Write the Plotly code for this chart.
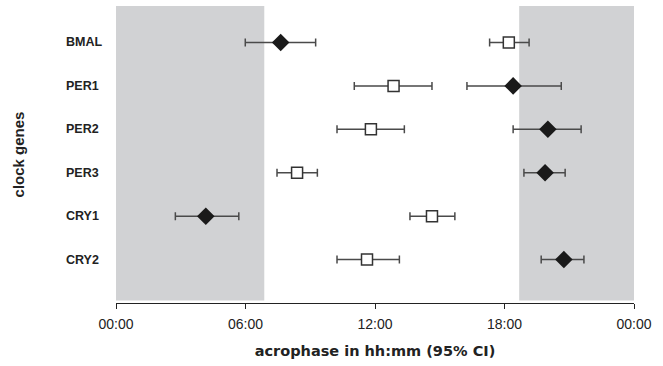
import plotly.graph_objects as go

genes = ["BMAL", "PER1", "PER2", "PER3", "CRY1", "CRY2"]

# filled diamonds: acrophase (hours) and 95% CI
diamond_phase = [7.63, 18.40, 20.01, 19.88, 4.16, 20.75]
diamond_lo = [5.99, 16.26, 18.40, 18.90, 2.75, 19.70]
diamond_hi = [9.25, 20.63, 21.55, 20.81, 5.69, 21.68]

# open squares: acrophase (hours) and 95% CI
square_phase = [18.20, 12.86, 11.81, 8.39, 14.64, 11.63]
square_lo = [17.31, 11.04, 10.24, 7.46, 13.62, 10.24]
square_hi = [19.14, 14.64, 13.36, 9.33, 15.70, 13.13]

# shaded dark periods (hours)
dark_periods = [(0.0, 6.87), (18.68, 24.0)]

tick_vals = [0, 6, 12, 18, 24]
tick_text = ["00:00", "06:00", "12:00", "18:00", "00:00"]

ypos = list(range(len(genes)))

font_family = "Liberation Sans, Arial, sans-serif"
err_color = "#4a4a4a"

fig = go.Figure()

fig.add_trace(go.Scatter(
    x=square_phase, y=ypos, mode="markers",
    marker=dict(symbol="square", size=11, color="white",
                line=dict(color="#333333", width=1.5)),
    error_x=dict(type="data", symmetric=False,
                 array=[h - p for h, p in zip(square_hi, square_phase)],
                 arrayminus=[p - l for p, l in zip(square_phase, square_lo)],
                 color=err_color, thickness=1.5, width=4),
    showlegend=False, hoverinfo="skip"))

fig.add_trace(go.Scatter(
    x=diamond_phase, y=ypos, mode="markers",
    marker=dict(symbol="diamond", size=13.5, color="#1a1a1a",
                line=dict(color="#1a1a1a", width=0)),
    error_x=dict(type="data", symmetric=False,
                 array=[h - p for h, p in zip(diamond_hi, diamond_phase)],
                 arrayminus=[p - l for p, l in zip(diamond_phase, diamond_lo)],
                 color=err_color, thickness=1.5, width=4),
    showlegend=False, hoverinfo="skip"))

for x0, x1 in dark_periods:
    fig.add_shape(type="rect", xref="x", yref="y", x0=x0, x1=x1,
                  y0=-0.84, y1=5.94, fillcolor="#d1d2d4",
                  line=dict(width=0), layer="below")

for g, y in zip(genes, ypos):
    fig.add_annotation(text="<b>%s</b>" % g, x=-0.1, xref="paper",
                       y=y, yref="y", xanchor="left", yanchor="middle",
                       showarrow=False,
                       font=dict(family=font_family, size=12.5, color="#222222"))

fig.update_layout(
    width=663, height=366,
    margin=dict(l=116, r=29, t=6, b=63),
    paper_bgcolor="white", plot_bgcolor="white",
    font=dict(family=font_family, color="#222222"),
    xaxis=dict(range=[0, 24], tickvals=tick_vals, ticktext=tick_text,
               showgrid=False, zeroline=False, showline=True,
               linecolor="#222222", linewidth=1.2,
               ticks="outside", ticklen=5, tickcolor="#222222",
               ticklabelstandoff=3,
               tickfont=dict(size=14, color="#222222"),
               title=dict(text="<b>acrophase in hh:mm (95% CI)</b>",
                          font=dict(family="DejaVu Sans, sans-serif",
                                    size=14.5, color="#222222"),
                          standoff=14)),
    yaxis=dict(range=[6.0, -0.84], showgrid=False, zeroline=False,
               showline=False, showticklabels=False, ticks="",
               title=dict(text="<b>clock genes</b>",
                          font=dict(size=15, color="#222222"), standoff=86)),
)

fig.write_html("out.html", config={"displayModeBar": False},
               post_script="document.body.style.margin='0';document.body.style.padding='0';")
